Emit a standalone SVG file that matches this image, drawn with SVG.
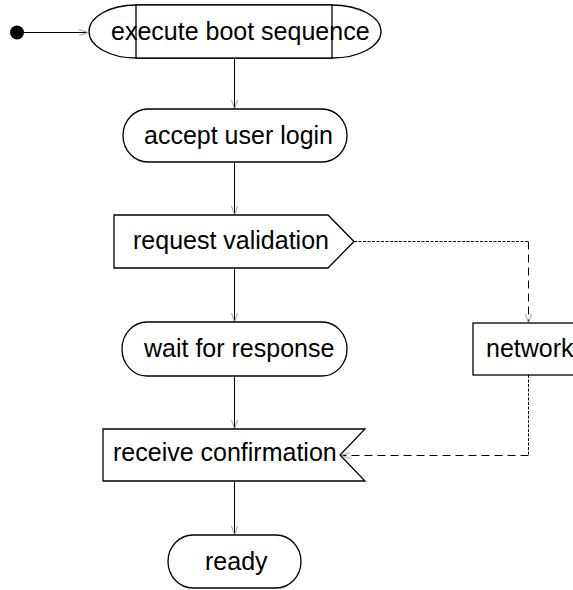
<svg xmlns="http://www.w3.org/2000/svg" width="573" height="590" viewBox="0 0 573 590">
<defs>
<marker id="arr" markerUnits="userSpaceOnUse" markerWidth="12" markerHeight="10" viewBox="-1 -5 12 10" refX="9" refY="0" orient="auto">
<path d="M0,-3 L9,0 L0,3" fill="none" stroke="#a0a0a0" stroke-width="1"/>
</marker>
</defs>
<style>
.n{fill:#fff;stroke:#000;stroke-width:1.3}
.t{font-family:"Liberation Sans",Arial,sans-serif;font-size:25px;fill:#000}
.c{fill:none;stroke:#000;stroke-width:1}
.d1{stroke-dasharray:3,1.5}
.d2{stroke-dasharray:8,5}
</style>
<rect width="573" height="590" fill="#fff"/>
<g id="connectors">
<line class="c" x1="24" y1="32.5" x2="88" y2="32.5" marker-end="url(#arr)"/>
<line class="c" x1="234.5" y1="58" x2="234.5" y2="109" marker-end="url(#arr)"/>
<line class="c" x1="234.5" y1="162" x2="234.5" y2="215" marker-end="url(#arr)"/>
<line class="c" x1="234.5" y1="268" x2="234.5" y2="322" marker-end="url(#arr)"/>
<line class="c" x1="234.5" y1="376" x2="234.5" y2="429" marker-end="url(#arr)"/>
<line class="c" x1="234.5" y1="481" x2="234.5" y2="535" marker-end="url(#arr)"/>
<path class="c d1" d="M354,241.5 H528.5"/>
<path class="c d2" d="M528.5,241.5 V323" marker-end="url(#arr)"/>
<path class="c d1" d="M528.5,375 V455.5"/>
<path class="c d2" d="M528.5,455.5 H341" marker-end="url(#arr)"/>
</g>
<g id="start">
<circle cx="17" cy="32.5" r="7" fill="#000"/>
</g>
<g id="execute">
<path class="n" d="M136,5 A47,26.5 0 0 0 136,58 L332,58 A49,26.5 0 0 0 332,5 Z"/>
<rect class="n" x="136" y="5" width="196" height="53"/>
<text class="t" x="111" y="40">execute boot sequence</text>
</g>
<g id="accept">
<rect class="n" x="123" y="109" width="224" height="53" rx="25" ry="26.5"/>
<text class="t" x="144" y="144">accept user login</text>
</g>
<g id="request">
<path class="n" d="M114,215 H328 L354,241.5 L328,268 H114 Z"/>
<text class="t" x="133" y="249">request validation</text>
</g>
<g id="network">
<rect class="n" x="473" y="323" width="115" height="52"/>
<text class="t" x="486" y="357">network</text>
</g>
<g id="wait">
<rect class="n" x="122" y="322" width="225" height="54" rx="25" ry="27"/>
<text class="t" x="144" y="357">wait for response</text>
</g>
<g id="receive">
<path class="n" d="M103,429 H365 L340,455 L365,481 H103 Z"/>
<text class="t" x="113" y="461">receive confirmation</text>
</g>
<g id="ready">
<rect class="n" x="168" y="535" width="133" height="53" rx="25" ry="26.5"/>
<text class="t" x="205" y="570">ready</text>
</g>
</svg>
